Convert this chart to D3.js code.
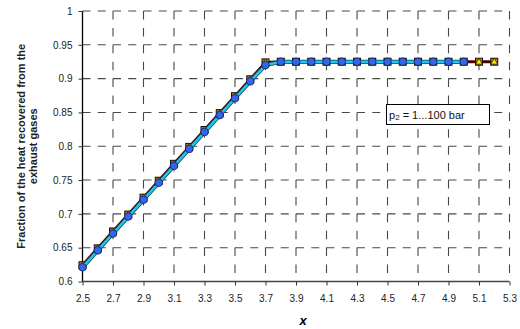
<!DOCTYPE html>
<html lang="en">
<head>
  <meta charset="UTF-8" />
  <title>Heat recovered vs x</title>
  <script src="https://cdn.jsdelivr.net/npm/d3@7"></script>
  <style>
    body { margin: 0; background: #fff; font-family: Arial, "Liberation Sans", sans-serif; }
    svg { display: block; }
    .grid line { stroke: #484848; stroke-width: 1.1; }
    .grid line.h { stroke-dasharray: 8, 7.25; }
    .grid line.v { stroke-dasharray: 8.5, 8.4; }
    .tick text { font-size: 10px; fill: #222; }
  </style>
</head>
<body>
<svg width="520" height="329"></svg>

<script>
  // series
  const xSquares = [2.5, 2.6, 2.7, 2.8, 2.9, 3.0, 3.1, 3.2, 3.3, 3.4, 3.5, 3.6, 3.7, 3.8, 3.9, 4.0, 4.1, 4.2, 4.3, 4.4, 4.5, 4.6, 4.7, 4.8, 4.9, 5.0, 5.1, 5.2];
  const ySquares = [0.624, 0.649, 0.674, 0.699, 0.724, 0.749, 0.774, 0.799, 0.824, 0.849, 0.874, 0.899, 0.924, 0.925, 0.925, 0.925, 0.925, 0.925, 0.925, 0.925, 0.925, 0.925, 0.925, 0.925, 0.925, 0.925, 0.925, 0.925];
  const xTriangles = xSquares;
  const yTriangles = [0.624, 0.649, 0.674, 0.699, 0.724, 0.749, 0.774, 0.799, 0.824, 0.849, 0.874, 0.899, 0.924, 0.925, 0.925, 0.925, 0.925, 0.925, 0.925, 0.925, 0.925, 0.925, 0.925, 0.925, 0.925, 0.925, 0.925, 0.925];
  const xCircles = [2.5, 2.6, 2.7, 2.8, 2.9, 3.0, 3.1, 3.2, 3.3, 3.4, 3.5, 3.6, 3.7, 3.8, 3.9, 4.0, 4.1, 4.2, 4.3, 4.4, 4.5, 4.6, 4.7, 4.8, 4.9, 5.0];
  const yCircles = [0.621, 0.646, 0.671, 0.696, 0.721, 0.746, 0.771, 0.796, 0.821, 0.846, 0.871, 0.896, 0.920, 0.925, 0.925, 0.925, 0.925, 0.925, 0.925, 0.925, 0.925, 0.925, 0.925, 0.925, 0.925, 0.925];

  const xTicks = [2.5, 2.7, 2.9, 3.1, 3.3, 3.5, 3.7, 3.9, 4.1, 4.3, 4.5, 4.7, 4.9, 5.1, 5.3];
  const yTicks = [0.6, 0.65, 0.7, 0.75, 0.8, 0.85, 0.9, 0.95, 1];

  const yTitle = ["Fraction of the heat recovered from the", "exhaust gases"];
  const xTitle = "x";
  const noteText = ["p", "2", " = 1...100 bar"];

  const svg = d3.select("svg");
  const mLeft = 82.5, mRight = 509.5, mTop = 11, mBottom = 281.5;

  const x = d3.scaleLinear().domain([2.5, 5.3]).range([mLeft, mRight]);
  const y = d3.scaleLinear().domain([0.6, 1]).range([mBottom, mTop]);

  // grid
  const grid = svg.append("g").attr("class", "grid");
  grid.selectAll("line.v")
    .data(xTicks.slice(1))
    .join("line")
    .attr("class", "v")
    .attr("x1", d => x(d)).attr("x2", d => x(d))
    .attr("y1", mTop).attr("y2", mBottom);
  grid.selectAll("line.h")
    .data(yTicks.slice(1))
    .join("line")
    .attr("class", "h")
    .attr("x1", mLeft).attr("x2", mRight)
    .attr("y1", d => y(d)).attr("y2", d => y(d));

  // axes
  const fmt = d => String(+d.toFixed(2));
  const yAxis = svg.append("g")
    .attr("transform", `translate(${mLeft},0)`)
    .call(d3.axisLeft(y).tickValues(yTicks).tickFormat(fmt).tickSize(4).tickPadding(6));
  const xAxis = svg.append("g")
    .attr("transform", `translate(0,${mBottom})`)
    .call(d3.axisBottom(x).tickValues(xTicks).tickFormat(d => d.toFixed(1)).tickSize(4).tickPadding(9));
  yAxis.select(".domain").attr("d", `M0,${mTop}V${mBottom}`).attr("stroke", "#000").attr("stroke-width", 1.3);
  xAxis.select(".domain").attr("d", `M${mLeft},0H${mRight}`).attr("stroke", "#444").attr("stroke-width", 1.3);
  svg.selectAll(".tick line").attr("stroke", "#333");

  // axis titles
  const yt = svg.append("text")
    .attr("transform", `translate(25,${(mTop + mBottom) / 2}) rotate(-90)`)
    .attr("text-anchor", "middle")
    .attr("font-size", 11)
    .attr("font-weight", "bold")
    .attr("fill", "#222");
  yTitle.forEach((t, i) => yt.append("tspan").attr("x", 0).attr("dy", i ? 12 : 0).text(t));

  svg.append("text")
    .attr("x", 303).attr("y", 325)
    .attr("text-anchor", "middle")
    .attr("font-size", 13)
    .attr("font-weight", "bold")
    .attr("font-style", "italic")
    .text(xTitle);

  // series
  const line = (xs, ys) => d3.line().x((d, i) => x(xs[i])).y(d => y(d))(ys);

  svg.append("path").attr("d", line(xSquares, ySquares))
    .attr("fill", "none").attr("stroke", "#5a0a0a").attr("stroke-width", 3);
  svg.append("path").attr("d", line(xTriangles, yTriangles))
    .attr("fill", "none").attr("stroke", "#1a0a0a").attr("stroke-width", 1.2);

  svg.append("g").selectAll("rect")
    .data(ySquares)
    .join("rect")
    .attr("x", (d, i) => x(xSquares[i]) - 3.5)
    .attr("y", d => y(d) - 3.5)
    .attr("width", 7).attr("height", 7)
    .attr("fill", "#c87800").attr("stroke", "#111").attr("stroke-width", 1);

  svg.append("g").selectAll("path")
    .data(yTriangles)
    .join("path")
    .attr("d", d3.symbol(d3.symbolTriangle, 20))
    .attr("transform", (d, i) => `translate(${x(xTriangles[i])},${y(d) + 0.5})`)
    .attr("fill", "#ffee00").attr("stroke", "#222").attr("stroke-width", 0.8);

  svg.append("path").attr("d", line(xCircles, yCircles))
    .attr("fill", "none").attr("stroke", "#1a3a4a").attr("stroke-width", 4);
  svg.append("path").attr("d", line(xCircles, yCircles))
    .attr("fill", "none").attr("stroke", "#1cc8f0").attr("stroke-width", 2.5);

  svg.append("g").selectAll("circle")
    .data(yCircles)
    .join("circle")
    .attr("cx", (d, i) => x(xCircles[i]))
    .attr("cy", d => y(d))
    .attr("r", 3.8)
    .attr("fill", "#3366ee").attr("stroke", "#102050").attr("stroke-width", 0.8);

  // note box
  svg.append("rect")
    .attr("x", 386.5).attr("y", 104.5).attr("width", 103).attr("height", 20)
    .attr("fill", "#fff").attr("stroke", "#000").attr("stroke-width", 1);
  const note = svg.append("text")
    .attr("x", 389).attr("y", 118.5)
    .attr("font-size", 11).attr("fill", "#111");
  note.append("tspan").text(noteText[0]);
  note.append("tspan").attr("font-size", 8).attr("dy", 1).text(noteText[1]);
  note.append("tspan").attr("dy", -1).text(noteText[2]);
</script>
</body>
</html>
